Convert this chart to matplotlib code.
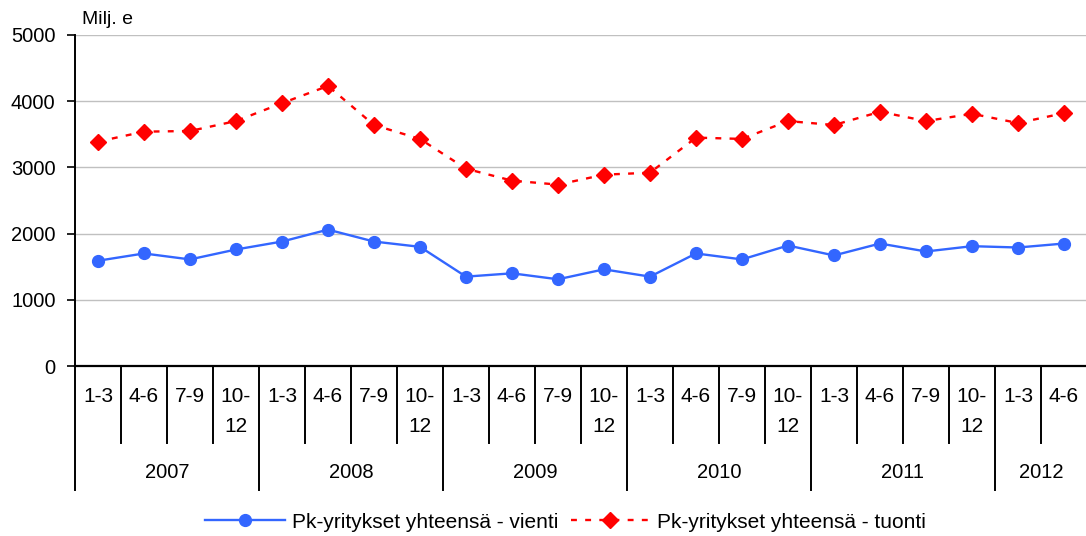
import matplotlib
matplotlib.use("Agg")
import matplotlib.pyplot as plt
import matplotlib.transforms as mtransforms

plt.rcParams['font.family'] = ['Liberation Sans', 'DejaVu Sans']

years = ["2007", "2008", "2009", "2010", "2011", "2012"]
quarters_per_year = [4, 4, 4, 4, 4, 2]
quarter_labels = ["1-3", "4-6", "7-9", "10-\n12"]
vienti = [1590, 1700, 1610, 1760, 1880, 2060, 1880, 1800, 1350, 1400, 1310, 1460,
          1350, 1700, 1610, 1820, 1670, 1850, 1730, 1810, 1790, 1850]
tuonti = [3390, 3540, 3550, 3700, 3970, 4230, 3640, 3430, 2980, 2800, 2740, 2890,
          2920, 3450, 3430, 3700, 3640, 3840, 3700, 3810, 3670, 3820]
yticks = [0, 1000, 2000, 3000, 4000, 5000]
unit_label = "Milj. e"
series_names = ["Pk-yritykset yhteensä - vienti", "Pk-yritykset yhteensä - tuonti"]

W, H = 1086, 536
fig = plt.figure(figsize=(W / 100, H / 100), dpi=100)
ax_left, ax_right, ax_top, ax_bottom = 75, 1087, 35, 366
ax = fig.add_axes([ax_left / W, 1 - ax_bottom / H, (ax_right - ax_left) / W, (ax_bottom - ax_top) / H])

FS_TICK = 14.5
FS_Q = 15
FS_YEAR = 14.5

n = len(vienti)
x = list(range(n))
ax.plot(x, vienti, color="#3366FF", lw=1.7, marker="o", ms=8.5, label=series_names[0], zorder=3)
ax.plot(x, tuonti, color="#FF0000", lw=1.7, ls=(0, (2.5, 3.5)), marker="D", ms=8,
        label=series_names[1], zorder=3)

ax.set_xlim(-0.5, n - 0.5)
ax.set_ylim(0, 5000)
ax.set_yticks(yticks)
ax.set_yticklabels([str(v) for v in yticks], fontsize=FS_TICK)
ax.tick_params(axis='y', direction='out', length=6, width=1.2, pad=8, color='black')
ax.set_xticks([])
ax.yaxis.grid(True, color="#C0C0C0", lw=1)
ax.set_axisbelow(True)
for s in ["top", "right"]:
    ax.spines[s].set_visible(False)
ax.spines["left"].set_linewidth(1.4)
ax.spines["bottom"].set_linewidth(1.6)

trans = mtransforms.blended_transform_factory(ax.transData, ax.transAxes)
ax_h = ax_bottom - ax_top
q_sep = -77 / ax_h
y_sep = -124 / ax_h
line1 = -31 / ax_h
line2 = -61 / ax_h
year_y = -107 / ax_h

i = 0
for yi, (yr, nq) in enumerate(zip(years, quarters_per_year)):
    start = i
    ax.plot([start - 0.5, start - 0.5], [0, y_sep], transform=trans, color='black', lw=1.4, clip_on=False)
    for q in range(nq):
        if q > 0:
            ax.plot([i - 0.5, i - 0.5], [0, q_sep], transform=trans, color='black', lw=1.4, clip_on=False)
        lab = quarter_labels[q]
        parts = lab.split("\n")
        ax.text(i, line1, parts[0], transform=trans, ha='center', va='center', fontsize=FS_Q)
        if len(parts) > 1:
            ax.text(i, line2, parts[1], transform=trans, ha='center', va='center', fontsize=FS_Q)
        i += 1
    ax.text((start + i - 1) / 2, year_y, yr, transform=trans, ha='center', va='center', fontsize=FS_YEAR)

fig.text(82 / W, 1 - 19 / H, unit_label, ha='left', va='center', fontsize=14)

fig.legend(loc='center', bbox_to_anchor=(0.521, 1 - 522 / H), ncol=2, frameon=False,
           fontsize=15, handlelength=3.8, columnspacing=0.6, handletextpad=0.35,
           borderaxespad=0, borderpad=0)

fig.savefig("out.png", dpi=100)
